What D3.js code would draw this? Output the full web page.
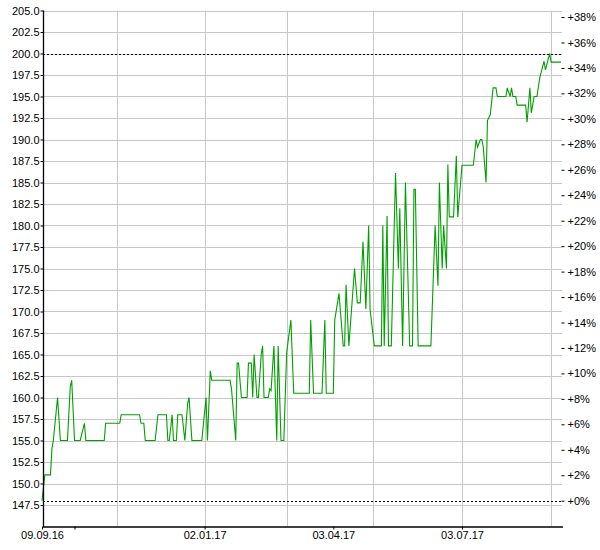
<!DOCTYPE html>
<html><head><meta charset="utf-8">
<script src="https://cdn.jsdelivr.net/npm/d3@7"></script>
<style>body{margin:0;background:#fff}svg{display:block}</style>
</head><body><svg id="c" width="600" height="550"></svg>
<script>
const dates = ["2016-09-09","2016-09-11","2016-09-15","2016-09-16","2016-09-17","2016-09-20","2016-09-22","2016-09-27","2016-09-29","2016-09-30",
"2016-10-02","2016-10-06","2016-10-09","2016-10-10","2016-10-23","2016-10-24","2016-11-03","2016-11-04","2016-11-17","2016-11-18",
"2016-11-20","2016-11-21","2016-11-28","2016-11-30","2016-12-06","2016-12-07","2016-12-08","2016-12-10","2016-12-11","2016-12-13",
"2016-12-14","2016-12-17","2016-12-19","2016-12-21","2016-12-22","2016-12-24","2016-12-31","2017-01-03","2017-01-04","2017-01-06",
"2017-01-07","2017-01-20","2017-01-21","2017-01-24","2017-01-25","2017-01-26","2017-01-28","2017-02-01","2017-02-02","2017-02-04",
"2017-02-05","2017-02-06","2017-02-08","2017-02-09","2017-02-11","2017-02-12","2017-02-13","2017-02-16","2017-02-17","2017-02-18",
"2017-02-20","2017-02-22","2017-02-23","2017-02-25","2017-02-27","2017-03-01","2017-03-02","2017-03-04","2017-03-06","2017-03-17",
"2017-03-18","2017-03-20","2017-03-26","2017-03-28","2017-03-29","2017-04-03","2017-04-04","2017-04-07","2017-04-10","2017-04-11",
"2017-04-12","2017-04-14","2017-04-18","2017-04-20","2017-04-22","2017-04-24","2017-04-26","2017-04-28","2017-04-29","2017-05-02",
"2017-05-07","2017-05-08","2017-05-09","2017-05-11","2017-05-12","2017-05-14","2017-05-17","2017-05-19","2017-05-20","2017-05-22",
"2017-05-24","2017-05-27","2017-05-29","2017-05-30","2017-05-31","2017-06-02","2017-06-11","2017-06-14","2017-06-16","2017-06-17",
"2017-06-19","2017-06-20","2017-06-22","2017-06-23","2017-06-24","2017-06-27","2017-06-29","2017-06-30","2017-07-02","2017-07-03",
"2017-07-11","2017-07-13","2017-07-14","2017-07-16","2017-07-17","2017-07-18","2017-07-20","2017-07-21","2017-07-23","2017-07-25",
"2017-07-27","2017-07-28","2017-08-03","2017-08-04","2017-08-06","2017-08-07","2017-08-08","2017-08-10","2017-08-11","2017-08-17",
"2017-08-18","2017-08-20","2017-08-21","2017-08-23","2017-08-25","2017-08-27","2017-08-30","2017-08-31","2017-09-03","2017-09-04",
"2017-09-11"];
const values = [148,151,151,154,155,160,155,155,161.3,162,
155,155,157,155,155,157,157,158,158,157,
157,155,155,158,158,155,155,158,155,155,
158,158,155,159.3,160,155,155,160,155,163.1,
162,162,161,155,164,164,160,160,164,164,
160,165,160,160,165,166,160,160,161,160.8,
166,155,166,155,155,165.2,166.5,169,160.5,160.5,
169,160.5,160.5,169,160.5,160.5,169,172.1,166,166,
173.1,166,175,171,171,178.1,170.3,180,170.2,166,
166,180,166,181.1,166,166,186.1,175,182,166,
185,166,166,184.2,184.2,166,166,180,173,185,
175,180,175,187.1,181,181,188.1,181,185,187,
187,190,189.1,190,190,189.2,185,192.2,192.9,196,
196,195,195,196,195,196,195,195,194,194,
192,196,193.1,195,195,197.2,199.1,198.1,200,199,
199];
const yTickValues = [147.5,150,152.5,155,157.5,160,162.5,165,167.5,170,172.5,175,177.5,180,182.5,185,187.5,190,192.5,195,197.5,200,202.5,205];
const pctTickValues = [0,2,4,6,8,10,12,14,16,18,20,22,24,26,28,30,32,34,36,38];
const gridDates = ["2016-11-01","2017-01-02","2017-03-01","2017-05-01","2017-07-03","2017-09-04"];
const labelDates = ["2016-09-09","2017-01-02","2017-04-03","2017-07-03"];
const labelTexts = ["09.09.16","02.01.17","03.04.17","03.07.17"];
const minorTickDates = ["2016-10-02"];
const baseValue = 148;
const peakValue = 200;
const yDomain = [145, 205];
const xDomain = ["2016-09-09","2017-09-11"];

const parse = d3.timeParse("%Y-%m-%d");
const data = dates.map((d,i)=>({date:parse(d), value:values[i]}));
const L = 43, R = 562, T = 10.5, B = 526.5;
const x = d3.scaleTime().domain(xDomain.map(parse)).range([42, 561]);
const y = d3.scaleLinear().domain(yDomain).range([B, T]);
const svg = d3.select("#c");
const font = "'Liberation Sans', Arial, sans-serif";

// horizontal grid
svg.append("g").selectAll("line").data(yTickValues).join("line")
  .attr("x1", L).attr("x2", R)
  .attr("y1", d=>Math.round(y(d))+0.5).attr("y2", d=>Math.round(y(d))+0.5)
  .attr("stroke", "#c8c8c8").attr("stroke-width",1);
// vertical grid
svg.append("g").selectAll("line").data(gridDates.map(parse)).join("line")
  .attr("x1", d=>Math.round(x(d))+0.5).attr("x2", d=>Math.round(x(d))+0.5)
  .attr("y1", T).attr("y2", B)
  .attr("stroke", "#c8c8c8").attr("stroke-width",1);

// dotted reference lines
svg.append("g").selectAll("line").data([baseValue, peakValue]).join("line")
  .attr("x1", L).attr("x2", R)
  .attr("y1", d=>Math.round(y(d))+0.5).attr("y2", d=>Math.round(y(d))+0.5)
  .attr("stroke", "#000").attr("stroke-width",1).attr("stroke-dasharray","2,2");

// data line
svg.append("path").datum(data)
  .attr("fill","none").attr("stroke","#00a000").attr("stroke-width",1.1)
  .attr("d", d3.line().x(d=>x(d.date)).y(d=>y(d.value)));

// left axis
const ya = d3.axisLeft(y).tickValues(yTickValues).tickFormat(d3.format(".1f")).tickSize(3).tickPadding(1).tickSizeOuter(0);
const gy = svg.append("g").attr("transform",`translate(${L+0.5},0)`).call(ya);
gy.select(".domain").remove();
gy.selectAll("text").attr("font-family",font).attr("font-size",11).attr("fill","#000");
gy.selectAll("line").attr("stroke","#000");

// right percent axis
const yp = d3.scaleLinear().domain(yDomain.map(v=>(v/baseValue-1)*100)).range([B,T]);
const ra = d3.axisRight(yp).tickValues(pctTickValues).tickFormat(d=>"+"+d+"%").tickSize(3).tickPadding(3).tickSizeOuter(0);
const gr = svg.append("g").attr("transform",`translate(${R-0.5},0)`).call(ra);
gr.select(".domain").remove();
gr.selectAll("text").attr("font-family",font).attr("font-size",11).attr("fill","#000");
gr.selectAll("line").attr("stroke","#000");

// bottom axis
const tickDates = labelDates.concat(minorTickDates).map(parse);
const xa = d3.axisBottom(x).tickValues(tickDates)
  .tickFormat(d=>{const i=labelDates.indexOf(d3.timeFormat("%Y-%m-%d")(d)); return i>=0?labelTexts[i]:"";})
  .tickSize(3).tickPadding(2).tickSizeOuter(0);
const gx = svg.append("g").attr("transform",`translate(0,${B})`).call(xa);
gx.select(".domain").remove();
gx.selectAll("text").attr("font-family",font).attr("font-size",11).attr("fill","#000");
gx.selectAll("line").attr("stroke","#000");

// axis lines
svg.append("line").attr("x1",L+0.5).attr("x2",L+0.5).attr("y1",T).attr("y2",B+0.5).attr("stroke","#000").attr("stroke-width",1.3);
svg.append("line").attr("x1",L).attr("x2",R+1).attr("y1",B+0.5).attr("y2",B+0.5).attr("stroke","#000").attr("stroke-width",1.3);
</script></body></html>
